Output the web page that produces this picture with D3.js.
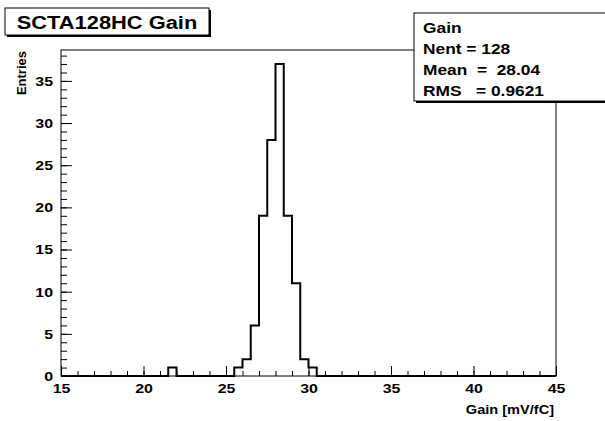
<!DOCTYPE html>
<html>
<head>
<meta charset="utf-8">
<script src="https://cdn.jsdelivr.net/npm/d3@7"></script>
<style>
  body { margin: 0; background: #fff; }
  svg text { font-family: "Liberation Sans", Arial, sans-serif; font-weight: bold; fill: #000; }
</style>
</head>
<body>
<div id="chart"></div>
<script>
// Data
const histTitle = 'SCTA128HC Gain'
const xRange = [15, 45]
const binWidth = 0.5
// entries per 0.5 mV/fC bin, from 15 to 45
const counts = [
  0, 0, 0, 0, 0, 0, 0, 0, 0, 0,
  0, 0, 0, 1, 0, 0, 0, 0, 0, 0,
  0, 1, 2, 6, 19, 28, 37, 19, 11, 2,
  1, 0, 0, 0, 0, 0, 0, 0, 0, 0,
  0, 0, 0, 0, 0, 0, 0, 0, 0, 0,
  0, 0, 0, 0, 0, 0, 0, 0, 0, 0
]
const xMajorTicks = [15, 20, 25, 30, 35, 40, 45]
const yMajorTicks = [0, 5, 10, 15, 20, 25, 30, 35]
const statsLines = ['Gain', 'Nent = 128', 'Mean  =  28.04', 'RMS   = 0.9621']

// Dimensions
const width = 605
const height = 421
const frame = { left: 61, right: 556, top: 50, bottom: 376 }
const stretch = 1.18  // the ROOT bold font is wider than Liberation

const svg = d3.select('#chart')
  .append('svg')
  .attr('width', width)
  .attr('height', height)

// helper: text placed at (x,y), widened a bit
function wideText(g, x, y, size, s, str) {
  return g.append('text')
    .attr('transform', `translate(${x},${y}) scale(${s},1)`)
    .attr('font-size', size)
    .style('white-space', 'pre')
    .text(str)
}

// scales
const x = d3.scaleLinear()
  .domain(xRange)
  .range([frame.left, frame.right])
const y = d3.scaleLinear()
  .domain([0, d3.max(counts) * 1.045])
  .range([frame.bottom, frame.top])

// frame
svg.append('rect')
  .attr('x', frame.left)
  .attr('y', frame.top)
  .attr('width', frame.right - frame.left)
  .attr('height', frame.bottom - frame.top)
  .attr('fill', 'none')
  .attr('stroke', '#000')
  .attr('stroke-width', 1)

// minor + major ticks (pointing inward)
const minorX = d3.range(xRange[0], xRange[1] + 1, 1)
const minorY = d3.range(0, 39, 1)

svg.append('g')
  .attr('transform', `translate(0,${frame.bottom})`)
  .call(d3.axisBottom(x).tickValues(minorX).tickSize(-5).tickFormat(''))
  .call(g => g.select('.domain').remove())

const xAxis = svg.append('g')
  .attr('transform', `translate(0,${frame.bottom})`)
  .call(d3.axisBottom(x).tickValues(xMajorTicks).tickSize(-10).tickPadding(7).tickFormat(d3.format('d')))
xAxis.select('.domain').remove()
xAxis.selectAll('text')
  .attr('font-size', 13.5)
  .attr('transform', `scale(${stretch},1)`)

svg.append('g')
  .attr('transform', `translate(${frame.left},0)`)
  .call(d3.axisLeft(y).tickValues(minorY).tickSize(-6).tickFormat(''))
  .call(g => g.select('.domain').remove())

const yAxis = svg.append('g')
  .attr('transform', `translate(${frame.left},0)`)
  .call(d3.axisLeft(y).tickValues(yMajorTicks).tickSize(-11).tickPadding(8).tickFormat(d3.format('d')))
yAxis.select('.domain').remove()
yAxis.selectAll('text')
  .attr('font-size', 13.5)
  .attr('x', -8 / stretch)
  .attr('transform', `scale(${stretch},1)`)

svg.selectAll('.tick line').attr('stroke', '#000')
svg.selectAll('g').attr('font-family', null)

// histogram outline
const pts = [[xRange[0], 0]]
counts.forEach((c, i) => pts.push([xRange[0] + i * binWidth, c]))
pts.push([xRange[1], counts[counts.length - 1]])
pts.push([xRange[1], 0])

const line = d3.line()
  .x(d => x(d[0]))
  .y(d => y(d[1]))
  .curve(d3.curveStepAfter)

svg.append('path')
  .attr('d', line(pts))
  .attr('fill', 'none')
  .attr('stroke', '#000')
  .attr('stroke-width', 2)

// axis titles
wideText(svg, frame.right - 2, 414, 13, 1.12, 'Gain [mV/fC]')
  .attr('text-anchor', 'end')

svg.append('text')
  .attr('transform', `translate(26,${frame.top + 1}) rotate(-90)`)
  .attr('text-anchor', 'end')
  .attr('font-size', 13)
  .text('Entries')

// title box
const tb = { x: 5, y: 8, w: 204, h: 27 }
svg.append('rect')
  .attr('x', tb.x + 2).attr('y', tb.y + 2)
  .attr('width', tb.w).attr('height', tb.h)
  .attr('fill', '#000')
svg.append('rect')
  .attr('x', tb.x).attr('y', tb.y)
  .attr('width', tb.w).attr('height', tb.h)
  .attr('fill', '#fff').attr('stroke', '#000').attr('stroke-width', 1)
wideText(svg, tb.x + tb.w / 2, 28.5, 19, 1.15, histTitle)
  .attr('text-anchor', 'middle')

// stats box
const sb = { x: 414, y: 13, w: 200, h: 88 }
svg.append('rect')
  .attr('x', sb.x + 2).attr('y', sb.y + 2)
  .attr('width', sb.w).attr('height', sb.h)
  .attr('fill', '#000')
svg.append('rect')
  .attr('x', sb.x).attr('y', sb.y)
  .attr('width', sb.w).attr('height', sb.h)
  .attr('fill', '#fff').attr('stroke', '#000').attr('stroke-width', 1)
const stats = svg.append('g')
statsLines.forEach((d, i) => {
  wideText(stats, sb.x + 9, 32.5 + i * 21.3, 15.5, 1.12, d)
})
</script>
</body>
</html>
